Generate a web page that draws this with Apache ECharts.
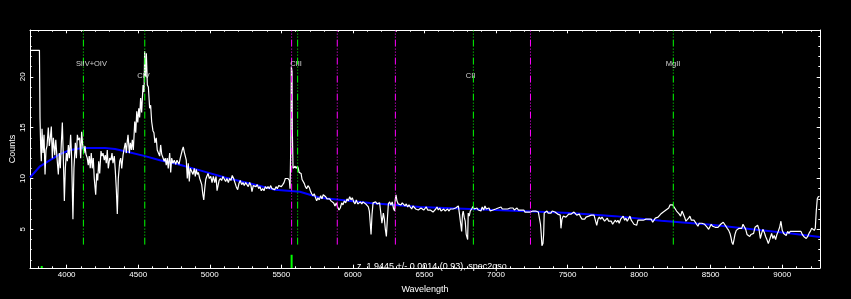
<!DOCTYPE html>
<html><head><meta charset="utf-8">
<script src="https://cdn.jsdelivr.net/npm/echarts@6/dist/echarts.min.js"></script>
<style>html,body{margin:0;padding:0;background:#000}#c{width:851px;height:299px}</style>
</head><body><div id="c"></div>
<script>
// ---- data ----
const spectrum = [
[3744,22.6],[3810,22.6],[3814,15.9],[3819,13.0],[3823,11.7],[3828,14.9],[3835,12.5],[3842,14.3],[3849,10.4],[3856,12.8],[3863,13.2],[3872,15.0],[3879,13.2],[3886,14.0],[3893,15.1],[3900,12.0],[3907,14.0],[3917,12.3],[3924,13.8],[3933,12.0],[3942,10.4],[3949,12.5],[3956,11.0],[3963,13.5],[3970,15.5],[3977,12.0],[3984,7.8],[3991,11.0],[3998,12.5],[4005,11.7],[4012,13.3],[4019,12.0],[4028,14.3],[4035,12.0],[4044,6.0],[4051,11.0],[4061,13.5],[4068,12.0],[4075,14.3],[4081,13.8],[4091,14.0],[4098,12.0],[4105,14.6],[4112,13.3],[4121,12.5],[4128,13.2],[4135,12.4],[4144,12.0],[4151,11.3],[4158,12.2],[4165,11.0],[4172,12.5],[4179,11.0],[4186,12.0],[4193,10.0],[4203,8.4],[4210,10.5],[4217,9.8],[4224,11.7],[4231,10.5],[4240,12.7],[4247,12.2],[4254,12.5],[4263,11.8],[4270,12.3],[4277,11.5],[4284,12.8],[4291,11.0],[4301,12.0],[4310,11.8],[4317,12.5],[4324,11.5],[4333,12.2],[4340,10.8],[4347,9.0],[4354,6.5],[4361,10.0],[4371,11.7],[4378,12.0],[4385,11.0],[4394,12.3],[4403,13.0],[4410,13.5],[4417,12.5],[4424,13.7],[4429,14.3],[4438,12.5],[4445,13.5],[4452,12.8],[4459,13.8],[4466,12.8],[4476,15.6],[4483,14.5],[4490,16.6],[4497,15.5],[4504,16.9],[4510,16.0],[4517,17.9],[4524,16.5],[4534,19.2],[4541,18.5],[4545,22.5],[4551,20.0],[4557,22.3],[4564,19.2],[4571,19.0],[4580,16.9],[4587,17.2],[4594,15.6],[4603,14.7],[4610,14.5],[4617,13.5],[4626,14.0],[4633,12.8],[4643,12.8],[4650,12.2],[4657,13.3],[4664,12.4],[4673,12.3],[4682,11.7],[4689,12.0],[4696,11.3],[4703,12.0],[4710,11.0],[4720,12.5],[4727,10.6],[4734,12.0],[4743,11.5],[4752,11.8],[4762,11.4],[4771,11.8],
[4778,11.8],[4785,11.4],[4794,12.0],[4801,12.4],[4808,12.8],[4815,13.1],[4822,12.6],[4829,12.5],[4836,11.8],[4843,10.0],[4850,11.5],[4857,9.7],[4864,11.0],[4874,10.9],[4883,10.4],[4892,11.0],[4899,10.2],[4906,10.9],[4913,10.4],[4920,10.6],[4930,10.0],[4937,9.9],[4944,9.4],[4951,8.5],[4958,7.9],[4965,9.0],[4972,9.9],[4979,10.2],[4988,10.5],[4997,10.0],[5007,10.2],[5016,9.6],[5025,10.2],[5035,9.6],[5044,10.2],[5051,8.8],[5058,8.7],[5065,9.8],[5074,10.0],[5083,9.8],[5092,10.2],[5102,10.3],[5111,9.7],[5120,10.0],[5130,9.6],[5139,10.0],[5148,9.8],[5157,10.3],[5167,10.0],[5176,9.6],[5185,9.2],[5195,8.9],[5204,9.5],[5213,9.8],[5223,9.4],[5232,9.6],[5241,9.3],[5251,9.6],[5260,9.5],[5269,9.2],[5279,9.6],[5288,9.3],[5295,8.7],[5304,9.3],[5314,9.4],[5323,9.2],[5332,9.4],[5342,9.0],[5351,9.2],[5360,8.8],[5370,9.0],[5379,8.8],[5388,9.2],[5398,9.0],[5407,9.2],[5416,9.0],[5426,9.3],[5435,9.0],[5444,9.1],[5454,8.9],[5463,9.2],[5472,9.0],[5482,9.3],[5491,9.4],[5500,9.2],[5510,9.4],[5519,9.6],[5528,10.0],[5538,10.0],[5547,10.0],[5556,9.8],[5561,9.0],[5566,13.0],[5570,21.0],[5575,20.5],[5577,14.6],[5582,11.0],[5589,10.9],[5596,11.2],[5605,11.0],[5612,11.2],[5619,11.0],[5624,10.6],[5631,10.5],[5638,10.5],[5645,9.9],[5654,10.0],[5661,9.5],[5668,9.2],[5677,9.0],[5686,9.3],[5696,9.1],[5703,8.8],[5712,8.5],[5721,8.3],[5730,8.5],[5737,8.2],[5747,7.8],[5756,8.1],[5765,7.9],[5775,8.3],[5784,8.0],[5793,8.4],[5803,8.3],
[5810,8.2],[5819,8.0],[5828,7.9],[5838,8.0],[5847,7.8],[5856,7.9],[5866,7.6],[5875,7.3],[5884,7.6],[5894,7.2],[5903,6.9],[5912,7.1],[5922,7.6],[5931,7.4],[5940,7.8],[5950,7.6],[5959,8.0],[5968,7.8],[5978,8.2],[5987,7.9],[5996,8.1],[6006,7.7],[6015,7.5],[6024,7.9],[6034,7.5],[6043,7.6],[6052,7.7],[6062,7.5],[6071,7.7],[6080,7.6],[6090,7.5],[6099,7.6],[6108,7.2],[6115,6.8],[6122,5.5],[6127,4.5],[6134,6.5],[6141,7.6],[6150,7.6],[6159,7.7],[6169,7.5],[6178,7.4],[6187,7.6],[6196,6.5],[6203,5.6],[6213,6.6],[6220,6.0],[6227,5.0],[6234,4.3],[6241,6.0],[6248,7.5],[6257,7.7],[6266,7.4],[6275,7.7],[6285,7.0],[6292,6.8],[6296,7.9],[6301,8.4],[6308,7.8],[6317,7.5],[6327,7.6],[6336,7.4],[6345,7.6],[6355,7.5],[6364,7.3],[6373,7.5],[6383,7.2],[6392,7.4],[6401,7.2],[6411,7.0],[6420,7.3],[6429,7.2],[6439,7.0],[6448,7.1],[6457,6.9],[6467,7.0],[6476,7.1],[6485,7.0],[6495,6.9],[6504,7.0],[6513,7.2],[6523,6.9],[6532,7.0],[6541,6.9],[6551,6.8],[6560,6.7],[6569,6.8],[6579,7.0],[6588,7.2],[6597,6.9],[6607,7.1],[6616,6.8],[6625,6.8],[6635,7.0],[6644,6.8],[6653,6.9],[6662,7.0],[6672,6.8],[6681,7.0],[6690,7.1],[6700,7.0],[6709,7.0],[6718,7.1],[6727,7.0],[6737,7.3],[6745,6.5],[6751,5.8],[6760,4.8],[6766,6.5],[6771,6.8],[6778,6.2],[6785,5.8],[6792,4.5],[6802,4.0],[6806,6.6],[6813,6.3],[6820,6.8],
[6830,7.0],[6839,7.25],[6848,7.0],[6858,6.9],[6867,7.1],[6876,6.9],[6886,7.0],[6895,6.8],[6904,7.2],[6914,6.9],[6923,7.3],[6932,7.0],[6942,6.9],[6951,7.1],[6960,6.8],[6970,6.8],[6979,6.9],[6988,6.8],[6998,7.0],[7007,6.9],[7016,7.1],[7026,7.0],[7035,7.2],[7044,7.0],[7054,6.9],[7063,7.0],[7072,6.9],[7082,7.0],[7091,6.9],[7100,7.1],[7110,7.0],[7119,7.1],[7128,6.9],[7138,7.0],[7147,7.1],[7156,6.9],[7166,7.0],[7175,6.9],[7184,6.8],[7194,6.9],[7203,6.7],[7212,6.8],[7221,6.7],[7231,6.6],[7240,6.7],[7249,6.6],[7258,6.8],[7268,6.9],[7277,6.8],[7286,6.9],[7296,6.7],[7305,6.7],[7311,5.5],[7316,4.6],[7321,3.4],[7328,3.6],[7333,4.5],[7337,6.6],[7347,6.7],[7356,6.8],[7365,6.6],[7375,6.7],[7384,6.6],[7393,6.8],[7403,6.9],[7412,6.7],[7421,6.6],[7431,6.5],[7440,6.6],[7449,6.4],[7454,5.1],[7461,6.0],[7470,6.3],[7480,6.4],[7489,6.2],[7498,6.3],[7508,6.5],[7517,6.4],[7526,6.5],[7536,6.6],[7545,6.7],[7554,6.6],[7564,6.4],[7573,6.4],[7582,6.5],[7592,6.2],[7601,6.0],[7610,6.1],[7620,6.0],[7629,6.2],[7638,6.1],[7648,6.3],[7657,6.2],[7666,6.4],[7676,6.3],[7685,6.4],[7694,6.3],[7704,5.4],[7713,6.0],[7722,6.2],[7731,6.0],[7741,6.2],[7750,6.3],[7759,5.8],[7769,5.9],[7778,6.1],[7787,5.8],[7796,5.7],[7806,5.8],
[7815,5.5],[7824,5.7],[7834,5.9],[7843,5.7],[7852,5.9],[7861,5.6],[7871,6.0],[7880,6.1],[7889,6.3],[7899,5.9],[7908,6.1],[7917,5.8],[7927,5.9],[7936,6.3],[7945,5.9],[7955,5.7],[7964,5.5],[7973,5.6],[7983,5.4],[7992,5.9],[8001,6.0],[8011,5.9],[8020,6.0],[8029,5.9],[8039,6.0],[8048,6.0],[8057,5.9],[8067,6.0],[8076,5.9],[8085,6.0],[8095,5.7],[8104,5.8],[8113,6.1],[8123,6.1],[8132,6.2],[8141,6.3],[8151,6.5],[8160,6.6],[8169,6.7],[8179,6.8],[8188,6.9],[8197,7.0],[8207,7.1],[8216,7.4],[8225,7.4],[8235,7.4],[8244,7.2],[8253,7.0],[8262,6.8],[8272,6.9],[8281,6.5],[8290,6.3],[8300,6.8],[8309,6.5],[8318,6.2],[8327,5.8],[8337,5.8],[8346,6.1],[8355,6.3],[8365,5.9],[8374,5.8],[8383,5.9],[8392,5.8],[8402,5.5],[8411,5.3],[8420,5.6],[8430,5.5],[8439,5.6],[8448,5.6],[8458,5.5],[8467,5.4],[8476,5.2],[8486,5.0],[8495,5.1],[8504,5.5],[8514,5.3],[8523,5.4],[8532,5.2],[8542,5.1],[8551,5.2],[8560,5.3],[8570,5.5],[8579,5.6],[8588,5.7],[8598,5.6],[8607,5.3],[8616,5.1],[8626,4.9],[8635,4.6],[8642,4.2],[8649,3.7],[8656,3.5],[8663,4.0],[8670,4.5],[8679,4.9],[8689,5.0],[8698,5.1],[8707,5.0],[8717,5.1],[8726,5.5],[8735,5.4],[8745,5.0],[8754,4.5],[8763,4.4],[8773,4.3],[8782,4.5],[8791,4.5],[8800,4.6],[8810,5.2],[8819,5.3],[8828,5.4],[8838,5.0],[8847,4.1],[8856,4.6],[8865,5.0],[8875,4.7],[8884,4.3],[8893,4.0],[8903,3.6],[8910,3.5],[8917,4.2],[8926,4.6],[8935,4.1],[8944,4.4],[8954,4.0],[8963,4.5],[8972,4.8],[8982,5.2],[8991,5.8],[9000,4.9],[9010,4.6],[9019,4.5],[9028,4.4],[9038,4.8],[9047,4.6],[9056,4.8],[9066,4.7],[9075,4.8],[9084,4.7],[9094,4.8],[9103,4.9],[9112,4.8],[9122,4.9],[9131,4.8],[9140,4.5],[9150,4.3],[9159,4.2],[9168,4.1],[9178,4.3],[9187,4.6],[9196,4.8],[9206,5.1],[9215,5.0],[9224,4.9],[9231,5.1],[9238,6.8],[9245,8.0],[9252,8.2],[9260,8.25]
];
const continuum = [
[3744,10.1],[3814,11.2],[3884,11.8],[3954,12.4],[4024,12.8],[4114,13.0],[4198,13.0],[4268,13.0],[4338,12.9],[4429,12.6],[4548,12.2],[4652,11.8],[4778,11.4],[4932,10.8],[5106,10.1],[5281,9.5],[5456,8.9],[5630,8.7],[5770,8.1],[6120,7.6],[6469,7.2],[6818,7.0],[7168,6.8],[7517,6.6],[7831,6.3],[8155,5.85],[8504,5.45],[8854,4.9],[9064,4.6],[9264,4.25]
];
const lineNames = ['SiIV+OIV', 'CIV', 'CIII', 'CII', 'MgII'];
const lineWaves = [4117, 4546, 5614, 6842, 8239];
const skyWaves = [5572, 5891, 6297, 7241];
const markWaves = [3826, 5572];
const markTops = [1.4, 2.5];
const xMajorTicks = [4000, 4500, 5000, 5500, 6000, 6500, 7000, 7500, 8000, 8500, 9000];
const xMinorTicks = [3800,3900,4000,4100,4200,4300,4400,4500,4600,4700,4800,4900,5000,5100,5200,5300,5400,5500,5600,5700,5800,5900,6000,6100,6200,6300,6400,6500,6600,6700,6800,6900,7000,7100,7200,7300,7400,7500,7600,7700,7800,7900,8000,8100,8200,8300,8400,8500,8600,8700,8800,8900,9000,9100,9200];
const yMajorTicks = [5, 10, 15, 20];
const yMinorTicks = [2,3,4,5,6,7,8,9,10,11,12,13,14,15,16,17,18,19,20,21,22,23,24];
const redshiftText = 'z  1.9445 +/- 0.0014 (0.93), spec2qso';

// ---- layout / style ----
const X_MIN = 3744, X_MAX = 9264, Y_MIN = 1.2, Y_MAX = 24.6;
const LINE_BOTTOM = 3.5, LABEL_HIGH = 21.25, LABEL_LOW = 20.07;
const FONT = 'Liberation Sans';
const WHITE = '#ffffff';
const DASH = [7, 2, 1, 2, 1, 2, 1, 2];

function axis(kind, position, ticks, len, showLabels, showLine, extra) {
  const a = {
    type: 'value', position: position,
    min: kind === 'x' ? X_MIN : Y_MIN, max: kind === 'x' ? X_MAX : Y_MAX,
    axisLine: { show: showLine, onZero: false, lineStyle: { color: WHITE, width: 1 } },
    axisTick: { show: true, inside: true, length: len, customValues: ticks, lineStyle: { color: WHITE, width: 1 } },
    axisLabel: { show: false },
    splitLine: { show: false }
  };
  if (showLabels) {
    a.axisLabel = {
      show: true, customValues: ticks, color: WHITE, fontFamily: FONT, fontSize: 8,
      formatter: function (v) { return String(v); }
    };
  }
  return Object.assign(a, extra || {});
}

const xAxes = [
  axis('x', 'bottom', xMajorTicks, 3.3, true, true, {
    name: 'Wavelength', nameLocation: 'middle', nameGap: 17, nameMoveOverlap: false,
    nameTextStyle: { color: WHITE, fontFamily: FONT, fontSize: 9 }
  }),
  axis('x', 'bottom', xMinorTicks, 1.7, false, false),
  axis('x', 'top', xMajorTicks, 3.3, false, true),
  axis('x', 'top', xMinorTicks, 1.7, false, false)
];
xAxes[0].axisLabel.margin = 3;

const yAxes = [
  axis('y', 'left', yMajorTicks, 3.3, true, true, {
    name: 'Counts', nameLocation: 'middle', nameGap: 13, nameRotate: 90, nameMoveOverlap: false,
    nameTextStyle: { color: WHITE, fontFamily: FONT, fontSize: 9 }
  }),
  axis('y', 'left', yMinorTicks, 1.7, false, false),
  axis('y', 'right', yMajorTicks, 3.3, false, true),
  axis('y', 'right', yMinorTicks, 1.7, false, false)
];
yAxes[0].axisLabel.rotate = 90;
yAxes[0].axisLabel.margin = 3;

const series = [];
series.push({
  type: 'line', name: 'fit', data: continuum, showSymbol: false, symbol: 'none',
  lineStyle: { color: '#0000ff', width: 2 }, z: 2, silent: true
});
series.push({
  type: 'line', name: 'spectrum', data: spectrum, showSymbol: false, symbol: 'none',
  lineStyle: { color: WHITE, width: 1.2 }, z: 3, silent: true
});
lineWaves.forEach(function (w) {
  series.push({
    type: 'line', data: [[w, LINE_BOTTOM], [w, Y_MAX]], showSymbol: false, symbol: 'none',
    lineStyle: { color: '#00ff00', width: 1, type: DASH }, z: 4, silent: true
  });
});
skyWaves.forEach(function (w) {
  series.push({
    type: 'line', data: [[w, LINE_BOTTOM], [w, Y_MAX]], showSymbol: false, symbol: 'none',
    lineStyle: { color: '#ff00ff', width: 1, type: DASH }, z: 4, silent: true
  });
});
markWaves.forEach(function (w, i) {
  series.push({
    type: 'line', data: [[w, Y_MIN], [w, markTops[i]]], showSymbol: false, symbol: 'none',
    lineStyle: { color: '#00ff00', width: 2 }, z: 4, silent: true
  });
});
series.push({
  type: 'scatter', symbolSize: 1, itemStyle: { color: 'rgba(0,0,0,0)' }, z: 6, silent: true,
  data: lineNames.map(function (n, i) {
    return { name: n, value: [lineWaves[i], i % 2 === 0 ? LABEL_HIGH : LABEL_LOW] };
  }),
  label: {
    show: true, formatter: '{b}', position: [-7, 0], align: 'left', verticalAlign: 'middle',
    color: WHITE, fontFamily: FONT, fontSize: 7.5
  }
});

const chart = echarts.init(document.getElementById('c'), null, { renderer: 'canvas' });
chart.setOption({
  backgroundColor: '#000000',
  animation: false,
  title: {
    text: redshiftText, left: 352, top: 257,
    textStyle: { color: WHITE, fontFamily: FONT, fontSize: 9, fontWeight: 'normal' }
  },
  grid: { left: 30, right: 31, top: 30, bottom: 31, containLabel: false, outerBoundsMode: 'none' },
  xAxis: xAxes,
  yAxis: yAxes,
  series: series
});
</script></body></html>
